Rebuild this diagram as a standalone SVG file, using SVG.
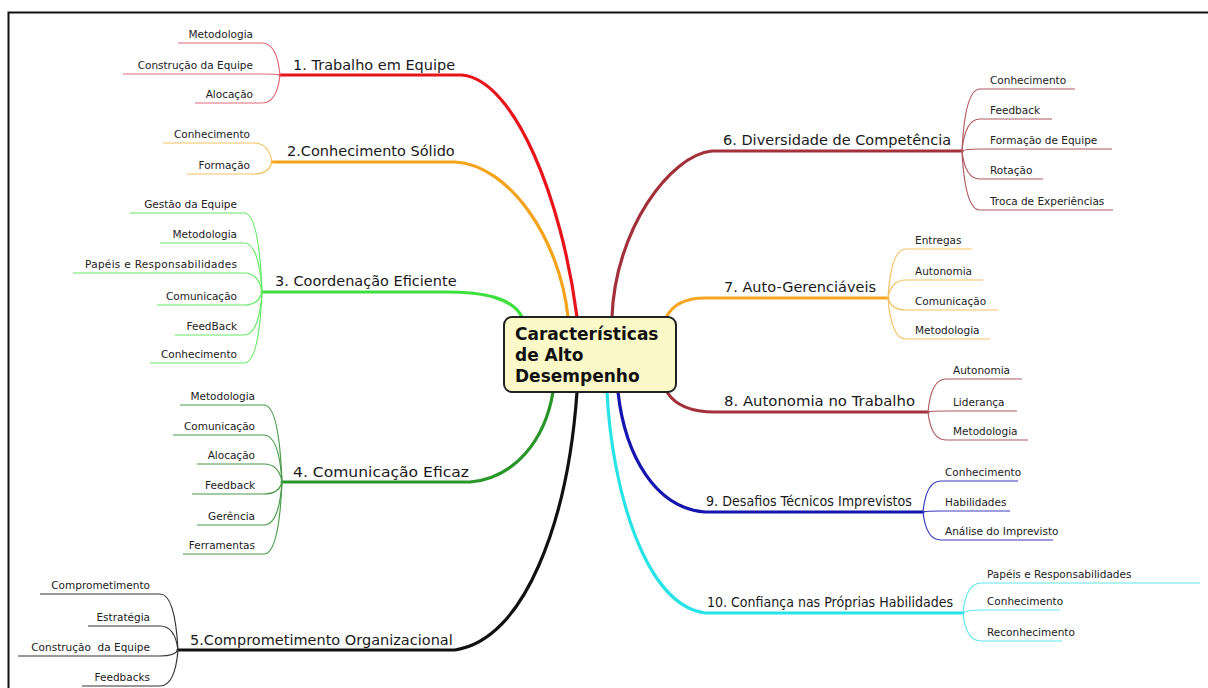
<svg xmlns="http://www.w3.org/2000/svg" width="1208" height="688" viewBox="0 0 1208 688">
  <style>
    .main { font-family: "DejaVu Sans", "Liberation Sans", sans-serif; font-size: 14.5px; fill: #1a1a1a; }
    .sub { font-family: "DejaVu Sans", "Liberation Sans", sans-serif; font-size: 10.5px; fill: #222; }
    .l { text-anchor: end; }
    .center { font-family: "DejaVu Sans", "Liberation Sans", sans-serif; font-size: 17px; font-weight: bold; fill: #111; }
    .trunk { fill: none; stroke-width: 3.2; stroke-linecap: round; }
    .twig { fill: none; stroke-width: 1.2; }
  </style>
  <rect x="0" y="0" width="1208" height="688" fill="#ffffff"/>
  <rect x="8.5" y="12.5" width="1300" height="800" fill="none" stroke="#111" stroke-width="2"/>

  <g id="connectors">
    <!-- trunks from the central topic -->
    <path class="trunk" stroke="#e8141c" d="M280,75 H462 C515,80 562,200 577,317"/>
    <path class="trunk" stroke="#f5a31a" d="M272,162 H455 C510,165 560,240 568,317"/>
    <path class="trunk" stroke="#3de03d" d="M262,292 H445 C485,292 512,298 522,317"/>
    <path class="trunk" stroke="#2a962a" d="M282,482 H470 C515,478 545,440 553,392"/>
    <path class="trunk" stroke="#111111" d="M178,650 H455 C525,640 568,520 577,392"/>
    <path class="trunk" stroke="#a3313a" d="M612,317 C615,230 670,155 712,151 H962"/>
    <path class="trunk" stroke="#f5a623" d="M666,318 C672,305 685,298 705,298 H888"/>
    <path class="trunk" stroke="#a3313a" d="M667,392 C675,405 690,412 715,412 H928"/>
    <path class="trunk" stroke="#1515b0" d="M618,392 C625,455 655,508 705,512 H923"/>
    <path class="trunk" stroke="#27e3e6" d="M607,392 C612,490 645,605 705,613 H963"/>

    <!-- 1 -->
    <g stroke="#e06878">
      <path class="twig" d="M178,43 H262 Q277,43 280,75"/>
      <path class="twig" d="M123,74 H262 Q277,74 280,75"/>
      <path class="twig" d="M195,103 H262 Q277,103 280,75"/>
    </g>
    <!-- 2 -->
    <g stroke="#f5c060">
      <path class="twig" d="M163,143 H254 Q269,143 272,162"/>
      <path class="twig" d="M187,174 H254 Q269,174 272,162"/>
    </g>
    <!-- 3 -->
    <g stroke="#66e866">
      <path class="twig" d="M130,213 H244 Q259,213 262,292"/>
      <path class="twig" d="M160,243 H244 Q259,243 262,292"/>
      <path class="twig" d="M73,273 H244 Q259,273 262,292"/>
      <path class="twig" d="M157,305 H244 Q259,305 262,292"/>
      <path class="twig" d="M175,335 H244 Q259,335 262,292"/>
      <path class="twig" d="M150,363 H244 Q259,363 262,292"/>
    </g>
    <!-- 4 -->
    <g stroke="#4a9a4a">
      <path class="twig" d="M180,405 H264 Q279,405 282,482"/>
      <path class="twig" d="M173,435 H264 Q279,435 282,482"/>
      <path class="twig" d="M197,464 H264 Q279,464 282,482"/>
      <path class="twig" d="M192,494 H264 Q279,494 282,482"/>
      <path class="twig" d="M197,525 H264 Q279,525 282,482"/>
      <path class="twig" d="M183,554 H264 Q279,554 282,482"/>
    </g>
    <!-- 5 -->
    <g stroke="#333333">
      <path class="twig" d="M40,594 H160 Q175,594 178,650"/>
      <path class="twig" d="M88,626 H160 Q175,626 178,650"/>
      <path class="twig" d="M18,656 H160 Q175,656 178,650"/>
      <path class="twig" d="M82,686 H160 Q175,686 178,650"/>
    </g>
    <!-- 6 -->
    <g stroke="#b05a62">
      <path class="twig" d="M1075,89 H980 Q965,89 962,151"/>
      <path class="twig" d="M1052,119 H980 Q965,119 962,151"/>
      <path class="twig" d="M1112,149 H980 Q965,149 962,151"/>
      <path class="twig" d="M1043,179 H980 Q965,179 962,151"/>
      <path class="twig" d="M1113,210 H980 Q965,210 962,151"/>
    </g>
    <!-- 7 -->
    <g stroke="#f5c060">
      <path class="twig" d="M972,249 H906 Q891,249 888,298"/>
      <path class="twig" d="M983,280 H906 Q891,280 888,298"/>
      <path class="twig" d="M998,310 H906 Q891,310 888,298"/>
      <path class="twig" d="M990,339 H906 Q891,339 888,298"/>
    </g>
    <!-- 8 -->
    <g stroke="#b05a62">
      <path class="twig" d="M1022,379 H946 Q931,379 928,412"/>
      <path class="twig" d="M1017,411 H946 Q931,411 928,412"/>
      <path class="twig" d="M1028,440 H946 Q931,440 928,412"/>
    </g>
    <!-- 9 -->
    <g stroke="#3a3ac0">
      <path class="twig" d="M1018,481 H941 Q926,481 923,512"/>
      <path class="twig" d="M1010,511 H941 Q926,511 923,512"/>
      <path class="twig" d="M1053,540 H941 Q926,540 923,512"/>
    </g>
    <!-- 10 -->
    <g stroke="#5ee8ec">
      <path class="twig" d="M1200,583 H981 Q966,583 963,613"/>
      <path class="twig" d="M1060,610 H981 Q966,610 963,613"/>
      <path class="twig" d="M1062,641 H981 Q966,641 963,613"/>
    </g>
  </g>

  <!-- central topic -->
  <g id="node-center">
    <rect x="504" y="317" width="172" height="75" rx="8" fill="#fcf9c9" stroke="#222" stroke-width="2"/>
    <text class="center" x="515" y="340">Características</text>
    <text class="center" x="515" y="361">de Alto</text>
    <text class="center" x="515" y="382">Desempenho</text>
  </g>

  <!-- main topics -->
  <g id="node-1"><text class="main" x="293" y="70">1. Trabalho em Equipe</text></g>
  <g id="node-2"><text class="main" x="287" y="156">2.Conhecimento Sólido</text></g>
  <g id="node-3"><text class="main" x="275" y="286">3. Coordenação Eficiente</text></g>
  <g id="node-4"><text class="main" x="293" y="477" textLength="176" lengthAdjust="spacingAndGlyphs">4. Comunicação Eficaz</text></g>
  <g id="node-5"><text class="main" x="190" y="645">5.Comprometimento Organizacional</text></g>
  <g id="node-6"><text class="main" x="723" y="145">6. Diversidade de Competência</text></g>
  <g id="node-7"><text class="main" x="724" y="292">7. Auto-Gerenciáveis</text></g>
  <g id="node-8"><text class="main" x="724" y="406" textLength="191" lengthAdjust="spacingAndGlyphs">8. Autonomia no Trabalho</text></g>
  <g id="node-9"><text class="main" x="706" y="506" textLength="206" lengthAdjust="spacingAndGlyphs">9. Desafios Técnicos Imprevistos</text></g>
  <g id="node-10"><text class="main" x="707" y="607" textLength="246" lengthAdjust="spacingAndGlyphs">10. Confiança nas Próprias Habilidades</text></g>

  <!-- subtopics, left side -->
  <g id="node-1-1"><text class="sub l" x="253" y="38">Metodologia</text></g>
  <g id="node-1-2"><text class="sub l" x="253" y="69">Construção da Equipe</text></g>
  <g id="node-1-3"><text class="sub l" x="253" y="98">Alocação</text></g>

  <g id="node-2-1"><text class="sub l" x="250" y="138">Conhecimento</text></g>
  <g id="node-2-2"><text class="sub l" x="250" y="169">Formação</text></g>

  <g id="node-3-1"><text class="sub l" x="237" y="208">Gestão da Equipe</text></g>
  <g id="node-3-2"><text class="sub l" x="237" y="238">Metodologia</text></g>
  <g id="node-3-3"><text class="sub l" x="237" y="268" textLength="152" lengthAdjust="spacing">Papéis e Responsabilidades</text></g>
  <g id="node-3-4"><text class="sub l" x="237" y="300">Comunicação</text></g>
  <g id="node-3-5"><text class="sub l" x="237" y="330">FeedBack</text></g>
  <g id="node-3-6"><text class="sub l" x="237" y="358">Conhecimento</text></g>

  <g id="node-4-1"><text class="sub l" x="255" y="400">Metodologia</text></g>
  <g id="node-4-2"><text class="sub l" x="255" y="430">Comunicação</text></g>
  <g id="node-4-3"><text class="sub l" x="255" y="459">Alocação</text></g>
  <g id="node-4-4"><text class="sub l" x="255" y="489">Feedback</text></g>
  <g id="node-4-5"><text class="sub l" x="255" y="520">Gerência</text></g>
  <g id="node-4-6"><text class="sub l" x="255" y="549">Ferramentas</text></g>

  <g id="node-5-1"><text class="sub l" x="150" y="589">Comprometimento</text></g>
  <g id="node-5-2"><text class="sub l" x="150" y="621">Estratégia</text></g>
  <g id="node-5-3"><text class="sub l" x="150" y="651" xml:space="preserve">Construção  da Equipe</text></g>
  <g id="node-5-4"><text class="sub l" x="150" y="681">Feedbacks</text></g>

  <!-- subtopics, right side -->
  <g id="node-6-1"><text class="sub" x="990" y="84">Conhecimento</text></g>
  <g id="node-6-2"><text class="sub" x="990" y="114">Feedback</text></g>
  <g id="node-6-3"><text class="sub" x="990" y="144">Formação de Equipe</text></g>
  <g id="node-6-4"><text class="sub" x="990" y="174">Rotação</text></g>
  <g id="node-6-5"><text class="sub" x="990" y="205">Troca de Experiências</text></g>

  <g id="node-7-1"><text class="sub" x="915" y="244">Entregas</text></g>
  <g id="node-7-2"><text class="sub" x="915" y="275">Autonomia</text></g>
  <g id="node-7-3"><text class="sub" x="915" y="305">Comunicação</text></g>
  <g id="node-7-4"><text class="sub" x="915" y="334">Metodologia</text></g>

  <g id="node-8-1"><text class="sub" x="953" y="374">Autonomia</text></g>
  <g id="node-8-2"><text class="sub" x="953" y="406">Liderança</text></g>
  <g id="node-8-3"><text class="sub" x="953" y="435">Metodologia</text></g>

  <g id="node-9-1"><text class="sub" x="945" y="476">Conhecimento</text></g>
  <g id="node-9-2"><text class="sub" x="945" y="506">Habilidades</text></g>
  <g id="node-9-3"><text class="sub" x="945" y="535">Análise do Imprevisto</text></g>

  <g id="node-10-1"><text class="sub" x="987" y="578">Papéis e Responsabilidades</text></g>
  <g id="node-10-2"><text class="sub" x="987" y="605">Conhecimento</text></g>
  <g id="node-10-3"><text class="sub" x="987" y="636">Reconhecimento</text></g>
</svg>
